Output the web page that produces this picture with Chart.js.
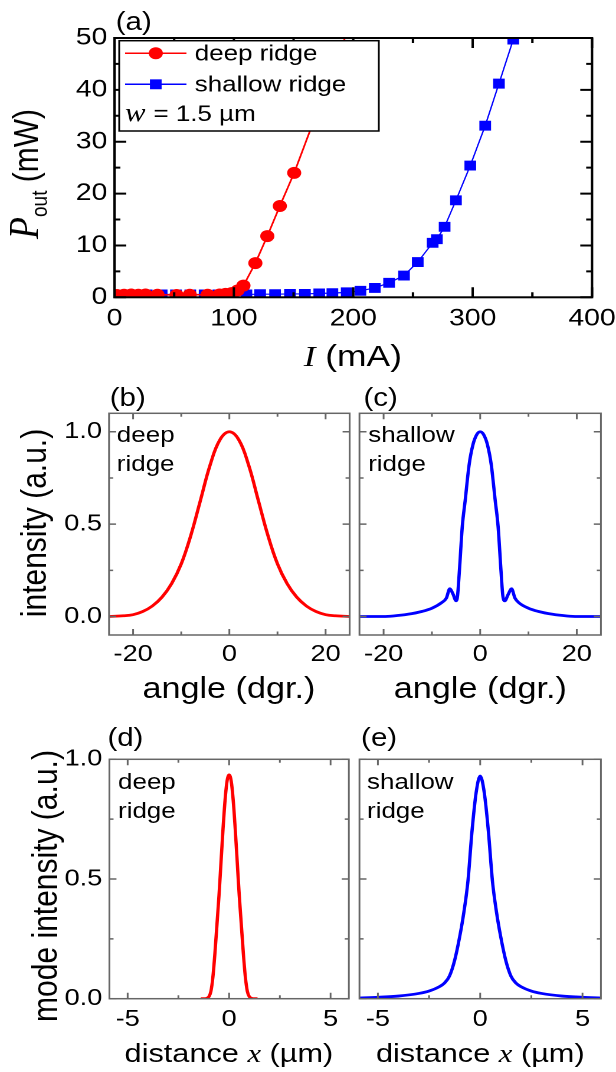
<!DOCTYPE html>
<html>
<head>
<meta charset="utf-8">
<title>Ridge lasers</title>
<script src="https://cdn.jsdelivr.net/npm/chart.js@4.4.0/dist/chart.umd.min.js"></script>
<style>
    html, body { margin: 0; padding: 0; background: #fff; }
    body { width: 616px; height: 1072px; overflow: hidden; position: relative; }
    /* the figure is laid out 522px wide and stretched to 616px like the original */
    #fig {
        position: absolute; left: 0; top: 0; width: 522px; height: 1072px;
        transform: scaleX(1.1801); transform-origin: 0 0;
        font-family: "Liberation Sans", Arial, sans-serif; color: #000;
    }
    #fig canvas { position: absolute; }
    .lbl { position: absolute; white-space: nowrap; line-height: 1; }
    .ctr { transform: translate(-50%, -50%); }
    .rot { transform: translate(-50%, -50%) rotate(-90deg); }
    .it { font-family: "Liberation Serif", "Times New Roman", serif; font-style: italic; }
    .sub { font-size: 19px; position: relative; top: 8px; }
    .note { font-size: 22px; line-height: 29px; }
    .pl { font-size: 25px; }
</style>
</head>
<body>
<div id="fig">
    <canvas id="chartA" width="522" height="380" style="left:0;top:0"></canvas>
    <canvas id="chartB" width="300" height="300" style="left:0;top:380px"></canvas>
    <canvas id="chartC" width="222" height="300" style="left:300px;top:380px"></canvas>
    <canvas id="chartD" width="300" height="342" style="left:0;top:730px"></canvas>
    <canvas id="chartE" width="222" height="342" style="left:300px;top:730px"></canvas>

    <!-- panel letters -->
    <div class="lbl pl" style="left:98px;top:9px">(a)</div>
    <div class="lbl pl" style="left:93px;top:385px">(b)</div>
    <div class="lbl pl" style="left:308px;top:385px">(c)</div>
    <div class="lbl pl" style="left:91px;top:725px">(d)</div>
    <div class="lbl pl" style="left:306px;top:725px">(e)</div>

    <!-- axis titles -->
    <div class="lbl rot" style="left:20px;top:174px;font-size:30px"><span class="it" style="font-size:36px">P</span><span class="sub">out</span> (mW)</div>
    <div class="lbl ctr" style="left:299px;top:356px;font-size:30px"><span class="it">I</span> (mA)</div>
    <div class="lbl rot" style="left:29px;top:523px;font-size:30px">intensity (a.u.)</div>
    <div class="lbl ctr" style="left:194px;top:688px;font-size:29px">angle (dgr.)</div>
    <div class="lbl ctr" style="left:407px;top:688px;font-size:29px">angle (dgr.)</div>
    <div class="lbl rot" style="left:38px;top:886px;font-size:30px">mode intensity (a.u.)</div>
    <div class="lbl ctr" style="left:194px;top:1053px;font-size:26px">distance <span class="it">x</span> (µm)</div>
    <div class="lbl ctr" style="left:407px;top:1053px;font-size:26px">distance <span class="it">x</span> (µm)</div>

    <!-- in-panel notes -->
    <div class="lbl note" style="left:99px;top:420px">deep<br>ridge</div>
    <div class="lbl note" style="left:312px;top:420px">shallow<br>ridge</div>
    <div class="lbl note" style="left:100px;top:767px">deep<br>ridge</div>
    <div class="lbl note" style="left:311px;top:767px">shallow<br>ridge</div>
</div>

<script>
// (a) output power vs current, deep ridge (measured points)
const deepCurrent = [2, 8, 14, 20, 26, 36, 52, 63, 78, 88, 93, 98, 103, 108, 118, 128, 138.5, 150.5];
const deepPower = [0.45, 0.5, 0.55, 0.5, 0.55, 0.5, 0.45, 0.5, 0.5, 0.55, 0.65, 0.8, 1.3, 2.25, 6.6, 11.8, 17.6, 24.0];
// (a) deep ridge line continued above the last marker
const deepFitCurrent = [150.5, 193];
const deepFitPower = [24.0, 50];
// (a) shallow ridge
const shallowCurrent = [27, 39.5, 51.5, 63.5, 75.5, 87, 99, 110.5, 122, 134.5, 147, 159.5, 171.5, 182.5, 194.5,
    206, 218, 230, 242.5, 254, 266.5, 270, 276.5, 286, 298, 310.5, 322, 334];
const shallowPower = [0.55, 0.55, 0.55, 0.55, 0.55, 0.55, 0.55, 0.55, 0.6, 0.6, 0.65, 0.65, 0.75, 0.8, 0.95,
    1.25, 1.8, 2.8, 4.2, 6.8, 10.5, 11.2, 13.6, 18.7, 25.4, 33.1, 41.2, 49.7];

// (b) far field, deep ridge
const angleDeep = [-25, -22, -20, -18, -16, -14, -12, -10, -8, -6, -4, -2, 0, 2, 4, 6, 8, 10, 12, 14, 16, 18, 20, 22, 25];
const farDeep = [0.0, 0.004, 0.01, 0.027, 0.057, 0.105, 0.178, 0.285, 0.44, 0.63, 0.82, 0.955, 1.0, 0.955, 0.82, 0.63, 0.44, 0.285, 0.178, 0.105, 0.057, 0.027, 0.01, 0.004, 0.0];
// (c) far field, shallow ridge
const angleShallow = [-25, -20, -18, -15, -12, -10, -8, -7, -6.3, -5.6, -5, -4.7, -4.3, -3.7, -3.1, -2.3, -1.5, -0.7, 0,
    0.7, 1.5, 2.3, 3.1, 3.7, 4.3, 4.7, 5.1, 5.8, 6.5, 7.2, 8, 10, 12, 15, 18, 20, 25];
const farShallow = [0, 0, 0.003, 0.012, 0.028, 0.045, 0.075, 0.1, 0.15, 0.12, 0.085, 0.11, 0.25, 0.49, 0.63, 0.82, 0.93, 0.985, 1.0,
    0.985, 0.93, 0.82, 0.63, 0.49, 0.25, 0.11, 0.085, 0.12, 0.15, 0.1, 0.075, 0.045, 0.028, 0.012, 0.003, 0, 0];

// (d) near field mode, deep ridge
const xDeep = [-1.4, -1.2, -1.1, -1.0, -0.9, -0.8, -0.7, -0.6, -0.5, -0.4, -0.3, -0.2, -0.1, 0,
    0.1, 0.2, 0.3, 0.4, 0.5, 0.6, 0.7, 0.8, 0.9, 1.0, 1.1, 1.2, 1.4];
const modeDeep = [0, 0, 0.002, 0.008, 0.03, 0.09, 0.19, 0.31, 0.43, 0.57, 0.71, 0.83, 0.91, 0.935,
    0.91, 0.83, 0.71, 0.57, 0.43, 0.31, 0.19, 0.09, 0.03, 0.008, 0.002, 0, 0];
// (e) near field mode, shallow ridge
const xShallow = [-5.9, -5, -4, -3, -2.5, -2, -1.75, -1.5, -1.25, -1, -0.8, -0.6, -0.4, -0.2, 0,
    0.2, 0.4, 0.6, 0.8, 1, 1.25, 1.5, 1.75, 2, 2.5, 3, 4, 5, 5.9];
const modeShallow = [0.003, 0.006, 0.011, 0.022, 0.032, 0.05, 0.065, 0.095, 0.16, 0.26, 0.36, 0.49, 0.7, 0.86, 0.93,
    0.86, 0.7, 0.49, 0.36, 0.26, 0.16, 0.095, 0.065, 0.05, 0.032, 0.022, 0.011, 0.006, 0.003];

// tick values
const ticksCurrent = [0, 100, 200, 300, 400];
const minorCurrent = [50, 150, 250, 350];
const ticksPower = [0, 10, 20, 30, 40, 50];
const minorPower = [5, 15, 25, 35, 45];
const ticksAngle = [-20, 0, 20];
const minorAngle = [-10, 10];
const ticksIntensity = [0, 0.5, 1.0];
const minorIntensity = [0.25, 0.75];
const ticksDistance = [-5, 0, 5];
const minorDistance = [-2.5, 2.5];

const RED = '#ff0000';
const BLUE = '#0000ff';
const Y_W = 60;  // width kept for y tick labels
const X_H = 40;  // height kept for x tick labels

function points(xs, ys) {
    return xs.map((x, i) => ({ x: x, y: ys[i] }));
}

// frame around the plot with inward ticks on all four sides
const frameTicks = {
    id: 'frameTicks',
    afterDatasetsDraw(chart, args, o) {
        const { ctx, chartArea: a, scales } = chart;
        const x = scales.x, y = scales.y;
        ctx.save();
        ctx.strokeStyle = o.color;
        ctx.lineWidth = o.width;
        ctx.beginPath();
        const xMarks = (vals, len) => vals.forEach(v => {
            const px = x.getPixelForValue(v);
            ctx.moveTo(px, a.bottom); ctx.lineTo(px, a.bottom - len);
            ctx.moveTo(px, a.top); ctx.lineTo(px, a.top + len);
        });
        const yMarks = (vals, len) => vals.forEach(v => {
            const py = y.getPixelForValue(v);
            ctx.moveTo(a.left, py); ctx.lineTo(a.left + len, py);
            ctx.moveTo(a.right, py); ctx.lineTo(a.right - len, py);
        });
        xMarks(o.xMajor, o.majorLen);
        xMarks(o.xMinor, o.minorLen);
        yMarks(o.yMajor, o.majorLen);
        yMarks(o.yMinor, o.minorLen);
        ctx.stroke();
        ctx.strokeRect(a.left, a.top, a.right - a.left, a.bottom - a.top);
        ctx.restore();
    }
};

// boxed legend of panel (a): line + marker samples and the ridge width
const lineLegend = {
    id: 'lineLegend',
    afterDraw(chart, args, o) {
        const ctx = chart.ctx;
        const [bx, by, bw, bh] = o.box;
        ctx.save();
        ctx.fillStyle = '#fff';
        ctx.fillRect(bx, by, bw, bh);
        ctx.strokeStyle = '#000';
        ctx.lineWidth = 1.5;
        ctx.strokeRect(bx, by, bw, bh);
        ctx.textBaseline = 'middle';
        o.rows.forEach(r => {
            const ds = chart.data.datasets[r.dataset];
            ctx.strokeStyle = ds.borderColor;
            ctx.fillStyle = ds.borderColor;
            ctx.lineWidth = 1.5;
            ctx.beginPath();
            ctx.moveTo(o.lineX[0], r.y);
            ctx.lineTo(o.lineX[1], r.y);
            ctx.stroke();
            const mx = (o.lineX[0] + o.lineX[1]) / 2;
            if (ds.pointStyle === 'rect') {
                const s = ds.pointRadius * Math.SQRT1_2;
                ctx.fillRect(mx - s, r.y - s, 2 * s, 2 * s);
            } else {
                ctx.beginPath();
                ctx.arc(mx, r.y, ds.pointRadius, 0, Math.PI * 2);
                ctx.fill();
            }
            ctx.fillStyle = '#000';
            ctx.font = o.font;
            ctx.fillText(ds.label, o.textX, r.y + 1);
        });
        ctx.fillStyle = '#000';
        ctx.font = 'italic 26px "Liberation Serif", "Times New Roman", serif';
        ctx.fillText('w', o.noteX, o.noteY);
        ctx.font = o.font;
        ctx.fillText('= 1.5 µm', o.noteX + 24, o.noteY + 1);
        ctx.restore();
    }
};

function buildPanel(id, p) {
    const canvas = document.getElementById(id);
    const yW = p.yLabels ? Y_W : 0;
    const tickFont = { family: '"Liberation Sans", Arial, sans-serif', size: p.tickSize };
    return new Chart(canvas, {
        type: 'line',
        data: { datasets: p.datasets },
        options: {
            responsive: false,
            animation: false,
            devicePixelRatio: 2,
            layout: {
                padding: {
                    left: p.area.left - yW,
                    top: p.area.top,
                    right: canvas.width - p.area.right,
                    bottom: canvas.height - p.area.bottom - X_H
                }
            },
            scales: {
                x: {
                    type: 'linear',
                    min: p.xRange[0],
                    max: p.xRange[1],
                    grid: { display: false, drawTicks: false },
                    border: { display: false },
                    ticks: {
                        font: tickFont, color: '#000', padding: p.xPad,
                        maxRotation: 0, autoSkip: false,
                        callback: v => String(v)
                    },
                    afterBuildTicks: s => { s.ticks = p.xTicks.map(v => ({ value: v })); },
                    afterFit: s => { s.height = X_H; s.paddingLeft = 0; s.paddingRight = 0; }
                },
                y: {
                    type: 'linear',
                    display: p.yLabels,
                    min: p.yRange[0],
                    max: p.yRange[1],
                    grid: { display: false, drawTicks: false },
                    border: { display: false },
                    ticks: {
                        font: tickFont, color: '#000', padding: 6, autoSkip: false,
                        callback: v => p.yFixed ? v.toFixed(1) : String(v)
                    },
                    afterBuildTicks: s => { s.ticks = p.yTicks.map(v => ({ value: v })); },
                    afterFit: s => { s.width = yW; s.paddingTop = 0; s.paddingBottom = 0; }
                }
            },
            plugins: {
                legend: { display: false },
                tooltip: { enabled: false },
                frameTicks: {
                    color: p.frameColor, width: p.frameWidth,
                    majorLen: p.majorLen, minorLen: p.minorLen,
                    xMajor: p.xTicks, xMinor: p.xMinor,
                    yMajor: p.yTicks, yMinor: p.yMinor
                },
                lineLegend: p.legend || false
            }
        },
        plugins: [frameTicks, lineLegend]
    });
}

// smooth profile curve; sharp side lobes keep monotone interpolation
function curve(xs, ys, color, sharp) {
    const ds = {
        data: points(xs, ys),
        borderColor: color,
        borderWidth: 2.8,
        pointRadius: 0
    };
    if (sharp) ds.cubicInterpolationMode = 'monotone';
    else ds.tension = 0.4;
    return ds;
}

document.addEventListener('DOMContentLoaded', function() {
    // (a) L-I characteristics
    buildPanel('chartA', {
        area: { left: 97, top: 38, right: 501.7, bottom: 297.3 },
        xRange: [0, 400], yRange: [0, 50],
        xTicks: ticksCurrent, xMinor: minorCurrent,
        yTicks: ticksPower, yMinor: minorPower,
        yLabels: true, yFixed: false, tickSize: 24, xPad: 7,
        frameColor: '#000', frameWidth: 2, majorLen: 10, minorLen: 5,
        datasets: [
            {
                label: 'deep ridge',
                data: points(deepCurrent, deepPower),
                borderColor: RED, backgroundColor: RED,
                borderWidth: 1.5, pointStyle: 'circle', pointRadius: 6,
                pointBorderWidth: 0
            },
            {
                label: 'deep ridge fit',
                data: points(deepFitCurrent, deepFitPower),
                borderColor: RED, borderWidth: 1.5, pointRadius: 0
            },
            {
                label: 'shallow ridge',
                data: points(shallowCurrent, shallowPower),
                borderColor: BLUE, backgroundColor: BLUE,
                borderWidth: 1.2, pointStyle: 'rect', pointRadius: 7,
                pointBorderWidth: 0
            }
        ],
        legend: {
            box: [101, 40.7, 220, 90.3],
            lineX: [106, 158],
            textX: 165,
            font: '22px "Liberation Sans", Arial, sans-serif',
            rows: [{ dataset: 0, y: 53.3 }, { dataset: 2, y: 84.3 }],
            noteX: 106, noteY: 114
        }
    });

    const farCommon = {
        xRange: [-25, 25], yRange: [-0.1, 1.1],
        xTicks: ticksAngle, xMinor: minorAngle,
        yTicks: ticksIntensity, yMinor: minorIntensity,
        yFixed: true, tickSize: 23, xPad: 6,
        frameColor: '#666', frameWidth: 1.5, majorLen: 6, minorLen: 3.5
    };
    // (b) far field, deep ridge
    buildPanel('chartB', Object.assign({}, farCommon, {
        area: { left: 92.4, top: 33.3, right: 296.3, bottom: 255 },
        yLabels: true,
        datasets: [curve(angleDeep, farDeep, RED, false)]
    }));
    // (c) far field, shallow ridge
    buildPanel('chartC', Object.assign({}, farCommon, {
        area: { left: 4.6, top: 33.3, right: 209.2, bottom: 255 },
        yLabels: false,
        datasets: [curve(angleShallow, farShallow, BLUE, true)]
    }));

    const nearCommon = {
        xRange: [-5.9, 5.9], yRange: [0, 1.0],
        xTicks: ticksDistance, xMinor: minorDistance,
        yTicks: ticksIntensity, yMinor: minorIntensity,
        yFixed: true, tickSize: 23, xPad: 7,
        frameColor: '#666', frameWidth: 1.5, majorLen: 6, minorLen: 3.5
    };
    // (d) mode profile, deep ridge
    buildPanel('chartD', Object.assign({}, nearCommon, {
        area: { left: 92.7, top: 29.3, right: 295.6, bottom: 268.7 },
        yLabels: true,
        datasets: [curve(xDeep, modeDeep, RED, true)]
    }));
    // (e) mode profile, shallow ridge
    buildPanel('chartE', Object.assign({}, nearCommon, {
        area: { left: 4.6, top: 29.3, right: 209.2, bottom: 268.7 },
        yLabels: false,
        datasets: [curve(xShallow, modeShallow, BLUE, true)]
    }));
});
</script>
</body>
</html>
